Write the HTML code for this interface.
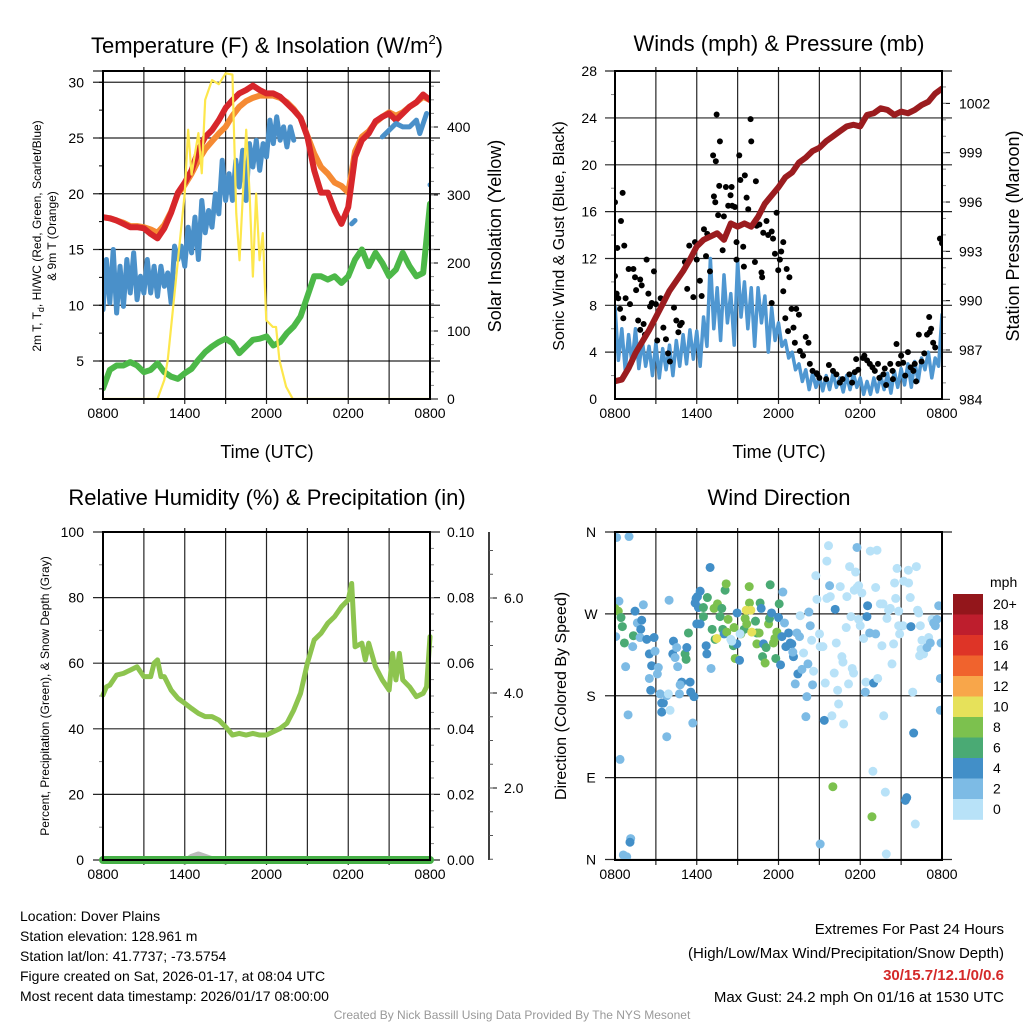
<!DOCTYPE html>
<html><head><meta charset="utf-8"><style>
html,body{margin:0;padding:0;background:#fff;}
svg{display:block;font-family:"Liberation Sans",Arial,sans-serif;}
</style></head><body>
<svg id="chart" xmlns="http://www.w3.org/2000/svg" width="1024" height="1024" viewBox="0 0 1024 1024">
<rect x="0" y="0" width="1024" height="1024" fill="#fff"/>
<text x="267" y="53" font-size="22" text-anchor="middle">Temperature (F) &amp; Insolation (W/m<tspan font-size="13" dy="-9">2</tspan><tspan dy="9">)</tspan></text>
<text x="779" y="51" font-size="22" text-anchor="middle">Winds (mph) &amp; Pressure (mb)</text>
<text x="267" y="505" font-size="22" text-anchor="middle">Relative Humidity (%) &amp; Precipitation (in)</text>
<text x="779" y="505" font-size="22" text-anchor="middle">Wind Direction</text>
<text x="267" y="458" font-size="18" text-anchor="middle">Time (UTC)</text>
<text x="779" y="458" font-size="18" text-anchor="middle">Time (UTC)</text>
<text transform="translate(41,236) rotate(-90)" font-size="12" text-anchor="middle">2m T, T<tspan font-size="9" dy="3">d</tspan><tspan dy="-3">, HI/WC (Red, Green, Scarlet/Blue)</tspan></text>
<text transform="translate(56,236) rotate(-90)" font-size="12" text-anchor="middle">&amp; 9m T (Orange)</text>
<text transform="translate(501,236) rotate(-90)" font-size="18" text-anchor="middle">Solar Insolation (Yellow)</text>
<text transform="translate(564,236) rotate(-90)" font-size="16" text-anchor="middle">Sonic Wind &amp; Gust (Blue, Black)</text>
<text transform="translate(1019,236) rotate(-90)" font-size="18" text-anchor="middle">Station Pressure (Maroon)</text>
<text transform="translate(49,696) rotate(-90)" font-size="12" text-anchor="middle">Percent, Precipitation (Green), &amp; Snow Depth (Gray)</text>
<text transform="translate(566,696) rotate(-90)" font-size="16" text-anchor="middle">Direction (Colored By Speed)</text>
<g font-size="14">
<text x="20" y="921">Location: Dover Plains</text>
<text x="20" y="941">Station elevation: 128.961 m</text>
<text x="20" y="961">Station lat/lon: 41.7737; -73.5754</text>
<text x="20" y="981">Figure created on Sat, 2026-01-17, at 08:04 UTC</text>
<text x="20" y="1001">Most recent data timestamp: 2026/01/17 08:00:00</text>
</g>
<g font-size="15" text-anchor="end">
<text x="1004" y="934">Extremes For Past 24 Hours</text>
<text x="1004" y="958">(High/Low/Max Wind/Precipitation/Snow Depth)</text>
<text x="1004" y="980" fill="#d42a2a" font-weight="bold">30/15.7/12.1/0/0.6</text>
<text x="1004" y="1002">Max Gust: 24.2 mph On 01/16 at 1530 UTC</text>
</g>
<text x="512" y="1019" font-size="12" fill="#999" text-anchor="middle">Created By Nick Bassill Using Data Provided By The NYS Mesonet</text>
</svg>
<script>
// ---------- data ----------
const timeTickLabels = ["0800","1400","2000","0200","0800"];
const timeTickHours = [0,6,12,18,24];
const halfHours = Array.from({length:49},(_,i)=>i*0.5);
const quarterHours = Array.from({length:97},(_,i)=>i*0.25);

const tempRed = [17.9,17.8,17.6,17.3,17.0,17.0,16.9,16.4,16.0,16.9,18.3,20.1,21.0,22.1,23.9,25.1,25.7,26.6,27.7,28.4,29.0,29.3,29.7,29.3,29.0,29.0,28.7,28.1,27.5,26.8,25.1,22.1,20.1,20.1,18.5,17.3,18.8,23.3,24.8,25.4,26.5,26.9,27.2,26.6,27.2,27.8,28.2,28.9,28.4];
const temp9m = [17.9,17.8,17.6,17.4,17.1,17.1,17.0,16.8,16.5,17.2,18.4,20.0,20.8,21.8,23.0,24.0,24.7,25.4,26.0,27.0,27.8,28.3,28.6,28.8,28.8,28.8,28.6,28.2,27.6,26.8,25.2,23.6,22.4,21.8,21.0,20.7,20.1,23.8,25.1,25.6,26.4,26.9,27.3,27.0,27.3,27.8,28.2,28.7,28.4];
const dewPoint = [2.55,4.2,4.6,4.6,4.9,4.6,4.0,4.2,4.8,4.0,3.6,3.4,3.9,4.3,5.1,5.8,6.3,6.7,7.0,6.6,5.7,6.3,6.9,7.0,7.2,6.4,6.7,7.5,8.1,9.0,10.8,12.6,12.6,12.3,12.6,12.0,12.6,14.1,15.0,13.5,14.7,13.8,12.6,13.2,14.7,13.5,12.6,12.9,19.1];
const windChillA = [9.6,14.1,10.2,15.0,9.3,13.5,9.9,14.1,11.1,14.7,10.5,12.6,11.1,14.1,11.1,13.5,10.8,13.5,11.7,12.9,10.2,15.3,14.1,15.3,13.5,17.0,14.7,17.9,14.1,19.4,16.5,18.5,17.0,20.0,18.2,23.0,19.4,21.8,19.4,23.0,20.6,23.9,19.4,24.5,22.4,24.8,22.1,24.5,23.3,26.6,24.5,26.9,24.8,26.0,24.2,26.0,24.8];
const windChillB_T = [18.25,18.5];
const windChillB = [17.3,17.6];
const windChillC_T = [20.5,21,21.5,22,22.5,23,23.25,23.5,23.75];
const windChillC = [25.1,25.7,26.3,26.0,26.0,26.6,25.4,26.3,27.2];
const windChillLastT = [24];
const windChillLast = [20.8];
const solarT = [0,4,4.5,4.75,5,5.5,6,6.25,6.5,7,7.25,7.5,8,8.5,9,9.5,9.78,10.02,10.27,10.51,10.76,11.0,11.24,11.49,11.73,11.98,12.46,12.7,12.95,13.44,13.93,24];
const solarV = [0,0,28,57,106,204,303,396,330,391,332,440,469,463,479,477,273,204,302,396,302,180,302,204,244,116,106,106,57,18,0,0];
const tempTicks = [5,10,15,20,25,30];
const solarTicks = [0,100,200,300,400];

const windSpeed = [7.9,3.3,6.0,2.5,5.5,3.0,6.0,2.6,5.0,2.8,4.5,2.0,4.8,1.8,4.3,2.5,4.6,2.0,5.0,2.8,5.5,3.0,5.9,3.4,5.8,2.8,7.0,4.5,12.0,6.0,9.5,5.0,10.6,6.5,9.0,4.6,11.8,7.0,10.0,6.0,9.5,4.5,9.5,6.5,8.8,4.0,7.8,5.0,6.5,4.5,5.0,3.5,4.0,2.5,3.0,1.5,2.5,0.8,2.2,1.0,1.9,0.7,2.0,0.8,2.2,1.0,1.8,0.6,2.0,0.8,2.2,1.0,1.8,0.4,1.5,0.4,1.8,0.6,2.0,0.8,2.2,0.5,2.4,1.0,2.6,1.2,3.0,1.0,3.2,1.5,3.5,2.5,4.0,1.8,3.5,2.8,7.2];
const gustT = [0,0.17,0.56,0.44,0.68,0,0.12,0.24,0.37,0.61,0.78,1.1,1.0,1.35,1.47,1.55,1.85,1.96,2.32,2.45,1.7,1.85,2.1,2.2,2.57,2.7,2.86,3.0,3.1,3.35,3.55,3.74,3.9,4.03,4.33,4.5,4.65,4.77,4.9,5.13,5.3,5.45,5.75,5.87,6.0,6.23,6.36,6.53,6.68,6.77,6.97,7.2,7.46,7.4,7.26,7.36,7.7,7.65,7.57,7.9,7.99,8.14,8.31,8.56,8.48,8.6,8.8,8.92,8.92,9.12,9.2,9.53,9.66,9.78,9.41,9.46,9.95,10.0,10.34,10.27,10.4,10.6,10.75,10.8,10.88,11.12,11.24,11.5,11.6,11.74,11.86,11.98,12.1,12.2,12.35,12.6,12.8,12.35,11.5,12.5,12.96,13.3,13.5,13.1,12.7,13.2,13.57,14.0,14.2,13.8,14.3,14.5,14.8,15.0,15.7,16.0,16.25,16.5,17.2,17.4,17.7,17.85,18.2,18.5,18.3,18.7,18.9,19.07,19.4,19.7,19.9,20.2,20.37,20.66,20.8,21.0,21.15,21.5,21.7,22.0,22.3,22.5,22.7,23.06,23.1,23.2,23.35,23.5,22.9,23.85,24.0,14.85,15.5,16.7,17.6,19.3,19.8,20.4,21.3,21.9,22.1];
const gustV = [16.8,12.9,17.6,15.2,13.1,10.5,9.0,8.6,7.7,6.9,8.6,8.1,11.1,11.1,10.4,9.3,10.2,9.7,11.9,9.0,6.7,5.9,6.4,5.5,7.9,8.2,10.9,8.1,5.0,8.6,6.1,5.1,3.9,3.2,7.8,6.7,5.7,6.3,6.5,11.7,9.4,13.1,8.7,13.4,11.9,10.1,8.8,14.5,12.2,14.1,10.9,20.8,24.3,20.3,17.3,16.8,22.0,18.2,15.7,12.7,15.6,18.1,16.5,18.1,17.4,16.5,16.4,11.9,13.4,20.8,18.7,19.1,17.2,16.2,13.0,11.3,23.9,22.0,18.6,11.7,14.8,14.9,10.8,10.4,14.2,15.2,14.0,14.3,13.7,12.4,15.9,11.0,11.9,12.6,13.4,11.1,10.4,9.2,8.2,6.9,7.7,7.7,7.2,6.1,5.8,4.8,4.1,5.3,4.8,3.7,3.0,2.4,2.2,1.8,2.9,2.4,2.1,1.4,2.1,1.4,3.4,2.5,3.5,3.3,3.7,3.0,2.7,2.4,1.8,2.1,1.2,3.0,2.4,4.7,3.0,3.7,3.1,4.0,2.7,3.0,5.5,3.2,3.9,7.0,5.7,6.0,4.8,4.4,5.5,13.7,13.3,2.1,1.7,1.7,2.3,3.0,2.6,1.7,2.0,2.4,1.5];
const pressure = [985.1,985.2,985.9,986.8,987.5,988.2,989.0,989.8,990.6,991.2,991.8,992.5,993.3,993.7,993.9,994.1,993.7,994.7,994.5,994.7,994.5,995.1,995.9,996.4,996.9,997.5,997.8,998.4,998.7,999.1,999.3,999.7,1000.0,1000.3,1000.6,1000.7,1000.6,1001.3,1001.4,1001.7,1001.6,1001.3,1001.5,1001.4,1001.6,1001.9,1002.1,1002.6,1002.9];
const windTicks = [0,4,8,12,16,20,24,28];
const pressureTicks = [984,987,990,993,996,999,1002];

const rhT = [0,0.25,0.5,1,1.5,2,2.5,3,3.5,3.75,4,4.25,4.5,5,5.5,6,6.5,7,7.5,8,8.5,9,9.5,10,10.5,11,11.5,12,12.5,13,13.5,14,14.5,15,15.5,16,16.5,17,17.5,18,18.25,18.5,19,19.25,19.5,20,20.5,21,21.25,21.5,21.75,22,22.5,23,23.5,23.75,24];
const rhV = [50.3,52.8,53.3,56.4,56.9,57.9,58.9,55.9,55.9,60.0,61.0,55.9,55.9,51.8,49.3,47.8,46.2,44.7,43.7,43.7,42.7,40.6,38.1,38.6,38.1,38.6,38.1,38.1,39.1,40.1,41.7,45.7,50.8,60.0,67.1,69.1,72.2,74.2,77.2,79.3,84.3,65.0,66.1,61.0,66.1,58.9,54.9,51.8,63.0,54.9,63.0,54.9,52.8,49.8,50.8,52.8,68.1];
const precipT = [0,6,12,18,24];
const precipV = [0,0,0,0,0];
const snowT = [6,6.5,7,7.5,8,8.5,9];
const snowV = [0.45,0.55,0.6,0.55,0.5,0.5,0.45];
const rhTicks = [0,20,40,60,80,100];
const precipTicks = ["0.00","0.02","0.04","0.06","0.08","0.10"];
const snowTicks = ["2.0","4.0","6.0"];

const dirT = [0.12,1.03,0.29,0,0.24,0.44,0.54,0.05,1.35,0.69,1.3,1.47,2.08,1.64,1.96,1.89,1.84,2.33,2.87,0.78,2.52,2.94,2.69,3.18,3.11,2.52,2.62,3.31,3.43,3.55,3.43,4.04,3.8,3.92,0.96,3.8,0.37,1.15,1.1,0.61,0.86,3.97,4.29,4.24,4.41,4.53,4.6,5.14,5.22,5.27,4.9,4.78,4.73,5.51,5.56,5.8,5.71,5.39,5.95,6.05,5.88,6.25,6.12,6.49,6.78,6.98,6.49,6.0,6.25,6.69,6.74,7.13,7.05,7.35,7.27,7.52,7.84,8.08,8.16,7.71,8.3,7.91,8.01,8.2,8.69,8.74,8.94,8.82,8.96,9.23,9.48,9.55,9.67,9.87,9.85,10.31,10.41,10.58,10.65,10.73,10.41,10.9,11.09,10.83,11.02,11.27,11.34,11.39,11.49,11.63,11.73,11.8,11.88,12.05,12.0,12.15,12.32,12.25,12.44,12.54,12.74,12.86,12.98,13.1,13.05,13.35,13.23,13.42,13.59,13.54,13.72,13.84,14.01,14.08,14.16,14.23,14.33,14.43,14.57,14.5,14.74,14.82,15.01,15.06,15.26,15.36,15.43,15.55,15.67,15.75,15.55,15.8,15.92,16.09,16.16,16.24,16.34,16.41,16.53,16.65,16.73,16.78,16.97,17.02,17.14,17.22,17.32,17.41,17.51,17.56,17.66,17.76,17.76,17.88,17.88,18.0,18.12,18.25,18.42,18.37,18.49,18.54,18.69,18.74,18.93,18.98,19.13,19.23,19.13,19.28,19.47,19.59,19.67,19.72,19.84,19.91,19.96,20.08,20.21,20.33,20.45,20.52,20.6,20.7,20.82,20.82,20.89,21.19,21.31,21.41,21.14,21.53,21.55,21.67,21.72,22.04,21.92,22.12,22.21,22.29,22.41,22.46,22.53,21.85,22.36,22.65,22.9,23.02,23.14,23.27,23.39,23.51,23.63,23.76,23.93,23.88,23.88,15.06,18.86,15.99,8.57,8.5,9.14,9.18,9.63,10.04,7.47,9.97];
const dirV = [354,355,284,276,273,266,256,245,246,238,234,273,280,260,263,253,244,242,244,212,226,229,213,211,204,199,186,182,172,172,162,164,180,182,159,135,110,23,19,5,3,285,240,226,222,233,212,226,220,233,195,192,182,195,184,179,150,249,287,289,282,295,277,277,288,321,267,259,259,235,226,253,210,242,276,281,276,296,303,267,264,253,248,250,235,255,237,221,271,248,253,265,259,282,300,262,249,249,282,276,237,237,233,223,216,259,265,302,271,238,243,221,250,281,266,214,294,245,260,234,249,238,237,223,228,249,193,204,268,245,209,227,157,179,215,272,257,241,207,192,312,286,248,234,234,153,194,328,345,301,287,289,158,205,275,238,186,171,300,223,217,149,255,289,193,322,267,210,205,296,316,343,299,301,264,257,293,243,195,184,267,279,249,339,97,194,248,340,299,199,281,235,281,158,74,6,265,274,276,215,237,304,287,320,273,257,248,306,65,68,257,318,304,288,256,39,139,322,274,271,257,231,241,184,224,226,233,244,238,264,260,257,264,279,238,199,164,17,47,80,240,242,219,248,274,250,243,274];
const dirSpeed = [3,3,3,9,9,7,7,3,7,7,3,5,3,3,5,5,3,5,5,3,5,3,5,3,3,3,5,3,5,5,5,1,3,1,3,3,3,3,5,3,3,3,5,5,3,3,3,7,7,5,5,3,3,5,5,5,3,7,5,5,5,5,5,7,7,5,7,5,5,5,5,7,3,7,9,9,7,7,9,7,9,7,5,9,7,9,5,9,5,9,7,9,9,9,9,7,7,9,7,5,9,5,7,7,9,9,7,7,5,9,9,7,9,7,5,5,3,5,3,5,5,5,5,5,3,3,3,5,1,3,3,1,3,3,3,3,3,1,1,3,1,1,1,1,1,5,1,1,1,3,1,1,1,1,5,1,1,1,1,1,1,1,1,1,1,1,1,1,1,1,1,3,1,1,1,1,1,1,1,3,5,5,3,1,1,5,3,1,1,1,1,1,1,1,1,1,1,1,1,1,1,1,1,1,1,1,1,1,5,5,1,1,1,1,5,1,5,1,1,1,1,1,1,1,1,1,3,1,3,1,3,3,3,3,3,3,3,3,9,9,1,1,5,1,11,11,11,11,11,11,13,13];
const dirTickLabels = ["N","E","S","W","N"];
const dirTickDeg = [0,90,180,270,360];
const speedBinLabels = ["20+","18","16","14","12","10","8","6","4","2","0"];
const speedBinColors = ["#93161b","#be1e2d","#de3427","#f0632d","#f8a64a","#e6e15a","#7cc14e","#4aaa74","#428fc8","#7dbbe5","#b8e2f8"];

// ---------- helpers ----------
const NS = "http://www.w3.org/2000/svg";
const svg = document.getElementById('chart');
function mk(tag, attrs, parent){ const e = document.createElementNS(NS, tag); for (const k in attrs) e.setAttribute(k, attrs[k]); (parent||svg).appendChild(e); return e; }
function txt(x,y,s,size,anchor,name){
  const t = mk('text',{x:x,y:y,'font-size':size,'text-anchor':anchor});
  t.textContent = s;
  
  
  return t;
}
function pathD(ts, vs, fx, fy){
  let d = "", pen = false;
  for (let i=0;i<ts.length;i++){
    if (vs[i]===null || vs[i]===undefined){ pen=false; continue; }
    d += (pen?"L":"M") + fx(ts[i]).toFixed(2) + " " + fy(vs[i]).toFixed(2) + " ";
    pen = true;
  }
  return d;
}

const panels = [
  {id:'temp', x0:103,x1:430,y0:71,y1:399},
  {id:'winds', x0:615,x1:942,y0:71,y1:399},
  {id:'humidity', x0:103,x1:430,y0:532,y1:860},
  {id:'direction', x0:615,x1:942,y0:532,y1:860}
];
function tx(p){ return h => p.x0 + h*(p.x1-p.x0)/24; }

// y scales
const P1=panels[0], P2=panels[1], P3=panels[2], P4=panels[3];
const yTemp = v => 361 - (v-5)*11.15;
const ySolar = s => 399 - s*0.68;
const yWind = w => 399 - w*11.71;
const yPress = p => 399.3 - (p-984)*16.44;
const yRH = r => 860 - r*3.28;
const yPrecip = p => 860 - p*3280;
const ySnow = s => 883 - s*47.5;
const yDir = d => 859.5 - d*0.9097;

// clip paths
const defs = mk('defs',{});
panels.forEach(p=>{
  const cp = mk('clipPath',{id:'clip-'+p.id}, defs);
  mk('rect',{x:p.x0,y:p.y0,width:p.x1-p.x0,height:p.y1-p.y0}, cp);
});

// grids & x ticks
panels.forEach(p=>{
  const g = mk('g',{stroke:'#000','stroke-width':1.2,'stroke-opacity':0.85});
  
  
  const X = tx(p);
  for (let h=3; h<24; h+=3){
    const l = mk('line',{x1:X(h),x2:X(h),y1:p.y0-4,y2:p.y1+5},g);
    
    
  }
  timeTickHours.forEach((h,i)=>{
    const t = txt(X(h), p.y1+19, timeTickLabels[i], 14, 'middle', p.id+'-x-tick-label');
  });
});

function hgrid(p, y, name){
  const l = mk('line',{x1:p.x0-10,x2:p.x1+10,y1:y,y2:y,stroke:'#000','stroke-width':1.2,'stroke-opacity':0.85});
  
  
}
// panel 1 axes
hgrid(P1, P1.y0, 'temp-top-grid');
tempTicks.forEach(v=>{ hgrid(P1, yTemp(v), 'temp-hgrid'); txt(84, yTemp(v)+5, String(v), 14, 'end', 'temp-y-tick-label'); });
for (let v=2.5; v<31; v+=2.5){ const l=mk('line',{x1:P1.x0-4,x2:P1.x0,y1:yTemp(v),y2:yTemp(v),stroke:'#000'});   }
solarTicks.forEach(v=>{ const l=mk('line',{x1:P1.x1,x2:P1.x1+8,y1:ySolar(v),y2:ySolar(v),stroke:'#000'});   txt(447, ySolar(v)+5, String(v), 14, 'start', 'solar-y-tick-label'); });
for (let v=20; v<480; v+=20){ const l=mk('line',{x1:P1.x1,x2:P1.x1+4,y1:ySolar(v),y2:ySolar(v),stroke:'#888'});   }

// panel 2 axes
hgrid(P2, P2.y0, 'winds-top-grid');
windTicks.forEach(v=>{ if(v>0&&v<28) hgrid(P2, yWind(v), 'winds-hgrid'); txt(597, yWind(v)+5, String(v), 14, 'end', 'wind-y-tick-label'); });
for (let v=2; v<28; v+=4){ const l=mk('line',{x1:P2.x0-4,x2:P2.x0,y1:yWind(v),y2:yWind(v),stroke:'#888'});   }
pressureTicks.forEach(v=>{ const l=mk('line',{x1:P2.x1,x2:P2.x1+8,y1:yPress(v),y2:yPress(v),stroke:'#000'});   txt(959, yPress(v)+5, String(v), 14, 'start', 'pressure-y-tick-label'); });
for (let v=985; v<1004; v++){ const l=mk('line',{x1:P2.x1,x2:P2.x1+4,y1:yPress(v),y2:yPress(v),stroke:'#888'});   }

// panel 3 axes
rhTicks.forEach(v=>{ hgrid(P3, yRH(v), 'humidity-hgrid'); txt(84, yRH(v)+5, String(v), 14, 'end', 'humidity-y-tick-label'); });
for (let v=10; v<100; v+=20){ const l=mk('line',{x1:P3.x0-4,x2:P3.x0,y1:yRH(v),y2:yRH(v),stroke:'#888'});   }
precipTicks.forEach(s=>{ const v=parseFloat(s); txt(447, yPrecip(v)+5, s, 14, 'start', 'precip-y-tick-label'); });
for (let v=0.005; v<0.1; v+=0.005){ const l=mk('line',{x1:P3.x1,x2:P3.x1+4,y1:yPrecip(v),y2:yPrecip(v),stroke:'#888'});   }
{ const l=mk('line',{x1:489,x2:489,y1:532,y2:860,stroke:'#000','stroke-width':1.5});   }
snowTicks.forEach(s=>{ const v=parseFloat(s); const l=mk('line',{x1:489,x2:497,y1:ySnow(v),y2:ySnow(v),stroke:'#000'});   txt(504, ySnow(v)+5, s, 14, 'start', 'snow-y-tick-label'); });
for (let v=0.5; v<7.5; v+=0.5){ if (ySnow(v)<532) break; const l=mk('line',{x1:489,x2:493,y1:ySnow(v),y2:ySnow(v),stroke:'#555'});   }

// panel 4 axes
dirTickDeg.forEach((d,i)=>{ hgrid(P4, yDir(d), 'direction-hgrid'); txt(591, yDir(d)+5, dirTickLabels[i], 14, 'middle', 'direction-y-tick-label'); });

// ---------- series panel 1 ----------
const X1 = tx(P1);
const g1 = mk('g',{'clip-path':'url(#clip-temp)',fill:'none','stroke-linejoin':'round','stroke-linecap':'round'});


function line(g, ts, vs, fx, fy, color, w, name){
  const p = mk('path',{d:pathD(ts,vs,fx,fy),stroke:color,'stroke-width':w,fill:'none'}, g);
  
  
  return p;
}
line(g1, halfHours, temp9m, X1, yTemp, '#f58a33', 6, 'temp-9m-line');
line(g1, halfHours, tempRed, X1, yTemp, '#d7262b', 6, 'temp-2m-line');
line(g1, quarterHours.slice(0,57), windChillA, X1, yTemp, '#4a90c9', 5, 'wind-chill-line');
line(g1, windChillB_T, windChillB, X1, yTemp, '#4a90c9', 5, 'wind-chill-line-b');
line(g1, windChillC_T, windChillC, X1, yTemp, '#4a90c9', 5, 'wind-chill-line-c');
line(g1, windChillLastT.concat(windChillLastT), windChillLast.concat(windChillLast), X1, yTemp, '#4a90c9', 5, 'wind-chill-last-point');
line(g1, halfHours, dewPoint, X1, yTemp, '#4cb848', 6, 'dew-point-line');
line(g1, solarT, solarV, X1, ySolar, '#fde74c', 2.2, 'solar-line');

// ---------- series panel 2 ----------
const X2 = tx(P2);
const g2 = mk('g',{'clip-path':'url(#clip-winds)','stroke-linejoin':'round','stroke-linecap':'round'});


line(g2, quarterHours, windSpeed, X2, yWind, '#4f97d1', 3.5, 'wind-speed-line');
gustT.forEach((t,i)=>{
  const c = mk('circle',{cx:X2(t),cy:yWind(gustV[i]),r:3,fill:'#000'}, g2);
  
  
});
line(g2, halfHours, pressure, X2, yPress, '#9b1c1f', 6, 'pressure-line');

// ---------- series panel 3 ----------
const X3 = tx(P3);
const g3 = mk('g',{'stroke-linejoin':'round','stroke-linecap':'round'});


line(g3, rhT, rhV, X3, yRH, '#8dc44f', 5, 'humidity-line');
line(g3, snowT, snowV, X3, ySnow, '#bbbbbb', 6, 'snow-depth-line');
line(g3, precipT, precipV, X3, yPrecip, '#46b046', 8, 'precipitation-line');

// ---------- series panel 4 ----------
const X4 = tx(P4);
const g4 = mk('g',{'clip-path':'url(#clip-direction)'});


function speedColor(s){ const idx = Math.min(10, Math.floor(s/2)); return speedBinColors[10-idx]; }
dirT.forEach((t,i)=>{
  const c = mk('circle',{cx:X4(t),cy:yDir(dirV[i]),r:4.5,fill:speedColor(dirSpeed[i])}, g4);
  
  
});

// colorbar
const cb = mk('g',{});


speedBinColors.forEach((col,i)=>{
  const r = mk('rect',{x:953,y:594+i*20.5,width:30,height:20.8,fill:col}, cb);
  
  
  txt(993, 594+i*20.5+15, speedBinLabels[i], 14, 'start', 'colorbar-label');
});
txt(990, 587, 'mph', 14, 'start', 'colorbar-title');

// frames
panels.forEach(p=>{
  const r = mk('rect',{x:p.x0,y:p.y0,width:p.x1-p.x0,height:p.y1-p.y0,fill:'none',stroke:'#000','stroke-width':2});
  
  
});
</script>
</body></html>
